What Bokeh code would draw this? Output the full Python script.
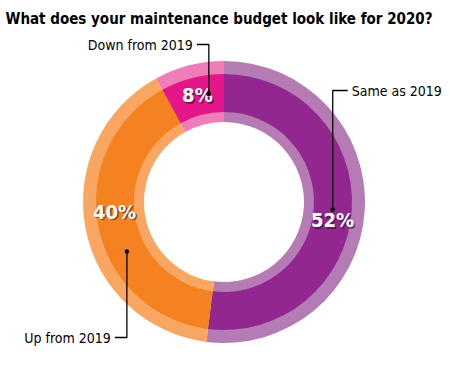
import math
from bokeh.plotting import figure
from bokeh.models import Range1d
from bokeh.core.properties import value
from bokeh.embed import file_html
from bokeh.resources import INLINE

title_text = "What does your maintenance budget look like for 2020?"
categories = ["Same as 2019", "Up from 2019", "Down from 2019"]
percents = [52, 40, 8]
pct_labels = ["52%", "40%", "8%"]
dark_colors = ["#92278F", "#F58220", "#E5168A"]
light_colors = ["#B57BB5", "#F9A662", "#EE7DB8"]

W, H = 442, 357
OFF = 0
p = figure(width=W, height=H, output_backend="svg", toolbar_location=None,
           x_range=Range1d(0, W), y_range=Range1d(0, H), min_border=0)
p.axis.visible = False
p.grid.visible = False
p.outline_line_color = None

def Y(sy):
    return H - (sy - OFF)
def X(sx):
    return sx - OFF

cx, cy = X(223.5), Y(201.5)
r_hole, r_in, r_out, r_edge = 80, 90, 128, 141

# angles: start at top, clockwise
starts, ends = [], []
a = 90.0
for v in percents:
    e = a - v * 3.6
    starts.append(math.radians(e))
    ends.append(math.radians(a))
    a = e

p.annular_wedge(x=[cx]*3, y=[cy]*3, inner_radius=r_hole, outer_radius=r_edge,
                start_angle=starts, end_angle=ends, fill_color=light_colors, line_color=None)
p.annular_wedge(x=[cx]*3, y=[cy]*3, inner_radius=r_in, outer_radius=r_out,
                start_angle=starts, end_angle=ends, fill_color=dark_colors, line_color=None)

# percent labels
label_angles = [-9.6, 185.0, 104.0]
label_r = 110
lx = [cx + label_r * math.cos(math.radians(t)) for t in label_angles]
ly = [cy + label_r * math.sin(math.radians(t)) for t in label_angles]
font = value("DejaVu Sans Condensed")
p.text(x=[x + 1.5 for x in lx], y=[y - 1.5 for y in ly], text=pct_labels, text_font=font,
       text_font_size="20px", text_font_style="bold", text_color="#3a1030", text_alpha=0.6,
       text_align="center", text_baseline="middle")
p.text(x=lx, y=ly, text=pct_labels, text_font=font, text_font_size="20px",
       text_font_style="bold", text_color="white", text_align="center", text_baseline="middle")

# leader lines: dot radius on each slice and elbow targets
dot_angles = [-4.0, 207.0, 98.0]
dot_r = 109
dots_x = [cx + dot_r * math.cos(math.radians(t)) for t in dot_angles]
dots_y = [cy + dot_r * math.sin(math.radians(t)) for t in dot_angles]
elbow_y = [Y(90), Y(337), Y(44)]
tail_dx = [15, -12, -12]
for dx0, dy0, ey, tdx in zip(dots_x, dots_y, elbow_y, tail_dx):
    p.line(x=[dx0, dx0, dx0 + tdx], y=[dy0, ey, ey], line_color="black", line_width=1.3)
p.scatter(x=dots_x, y=dots_y, size=4.5, fill_color="black", line_color=None)

name_x = [d + t + (4 if t > 0 else -4) for d, t in zip(dots_x, tail_dx)]
aligns = ["left", "right", "right"]
for nx, ny, txt, al in zip(name_x, elbow_y, categories, aligns):
    p.text(x=[nx], y=[ny], text=[txt], text_font=font, text_font_size="14px",
           text_color="black", text_align=al, text_baseline="middle")

p.text(x=[X(5)], y=[Y(18)], text=[title_text], text_font=font, text_font_size="15px",
       text_font_style="bold", text_color="black", text_align="left", text_baseline="middle")

open("out.html", "w").write(file_html(p, INLINE))
